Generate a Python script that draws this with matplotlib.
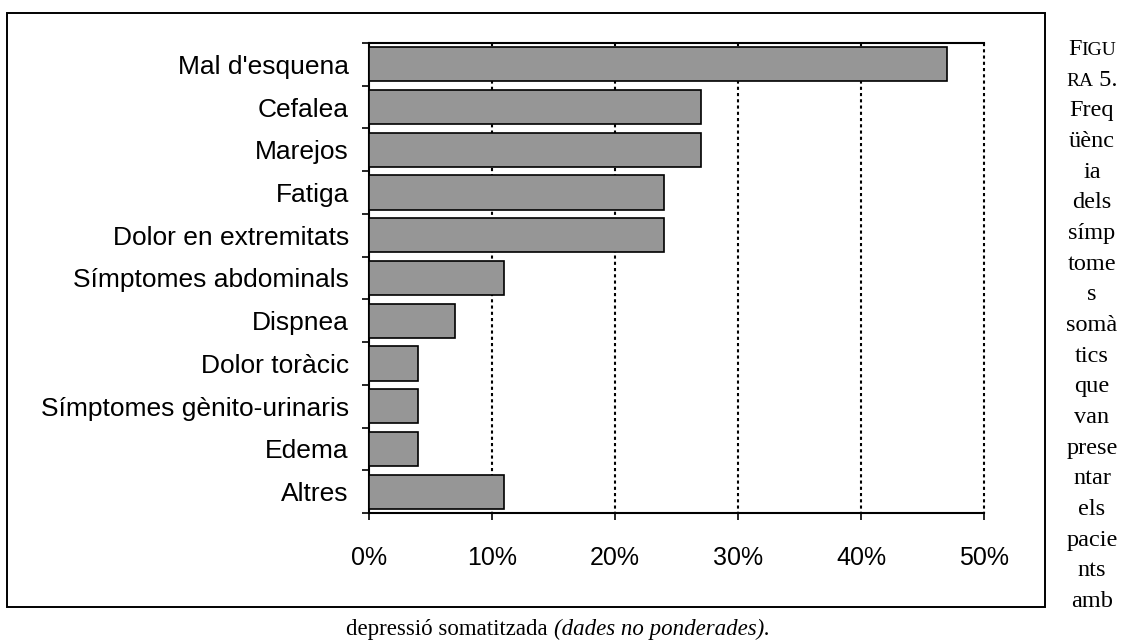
import matplotlib
matplotlib.use('Agg')
import matplotlib.pyplot as plt
from matplotlib.patches import Rectangle

# Somatic symptoms, share of patients (%)
categories = ["Mal d'esquena", "Cefalea", "Marejos", "Fatiga",
              "Dolor en extremitats", "Símptomes abdominals", "Dispnea",
              "Dolor toràcic", "Símptomes gènito-urinaris", "Edema", "Altres"]
values = [47, 27, 27, 24, 24, 11, 7, 4, 4, 4, 11]
xticks = [0, 10, 20, 30, 40, 50]
xticklabels = ['0%', '10%', '20%', '30%', '40%', '50%']

# caption, already broken the way it sits in the narrow right column
caption_lines = ['FIGU', 'RA 5.', 'Freq', 'üènc', 'ia', 'dels', 'símp', 'tome',
                 's', 'somà', 'tics', 'que', 'van', 'prese', 'ntar', 'els',
                 'pacie', 'nts', 'amb']
caption_end = 'depressió somatitzada '
caption_end_it = '(dades no ponderades).'

W, H = 1126, 643
fig = plt.figure(figsize=(W / 100, H / 100), dpi=100)
ax = fig.add_axes([369 / W, 1 - 513 / H, (984 - 369) / W, (513 - 43) / H])

pos = list(range(len(categories)))
ax.barh(pos, values, height=0.8, color='#969696', edgecolor='black',
        linewidth=1.2, zorder=3)

# dotted vertical grid, the one at 50% doubles as the right border
ax.vlines(xticks[1:], -0.5, len(categories) - 0.5, colors='black',
          linestyles=(0, (1.5, 1.5)), linewidth=1.5, zorder=1, clip_on=False)

ax.set_xlim(0, 50)
ax.set_ylim(len(categories) - 0.5, -0.5)
ax.set_xticks(xticks)
ax.set_xticklabels(xticklabels, fontsize=18, family='Liberation Sans')
ax.set_yticks(pos)
ax.set_yticklabels(categories, fontsize=19, family='Liberation Sans')
ax.set_yticks([p - 0.5 for p in pos] + [len(pos) - 0.5], minor=True)
ax.tick_params(axis='y', which='major', length=0, pad=14.5)
ax.tick_params(axis='y', which='minor', length=5, width=1.2, direction='out')
ax.tick_params(axis='x', length=5, width=1.2, direction='out', pad=19)
ax.spines['right'].set_visible(False)
for s in ('left', 'bottom', 'top'):
    ax.spines[s].set_linewidth(1.5)

# outer frame around the chart
fig.patches.append(Rectangle((7 / W, 1 - 607 / H), (1045 - 7) / W, (607 - 13) / H,
                             transform=fig.transFigure, fill=False,
                             edgecolor='black', linewidth=1.4))

serif = 'Liberation Serif'
fs = 16.5
fs_col = 17.5
r = fig.canvas.get_renderer()


def centered_pieces(pieces, xc, yb):
    # lay out (text, size, style) runs on one baseline and centre the whole line
    objs = []
    for txt, size, style in pieces:
        objs.append(fig.text(0, yb, txt, family=serif, fontsize=size,
                             style=style, va='baseline', ha='left'))
    widths = [o.get_window_extent(renderer=r).width / W for o in objs]
    x = xc - sum(widths) / 2
    for o, w in zip(objs, widths):
        o.set_x(x)
        x += w


xc = 1092 / W
first, last = 55, 607
step = (last - first) / (len(caption_lines) - 1)
for i, line in enumerate(caption_lines):
    yb = 1 - (first + i * step) / H
    if line == 'FIGU':
        centered_pieces([('F', fs_col, 'normal'), ('IGU', fs_col * 0.8, 'normal')], xc, yb)
    elif line == 'RA 5.':
        centered_pieces([('RA', fs_col * 0.8, 'normal'), (' 5.', fs_col, 'normal')], xc, yb)
    else:
        centered_pieces([(line, fs_col, 'normal')], xc, yb)

centered_pieces([(caption_end, fs, 'normal'), (caption_end_it, fs, 'italic')],
                558 / W, 1 - 635 / H)

fig.savefig('out.png', dpi=100)
